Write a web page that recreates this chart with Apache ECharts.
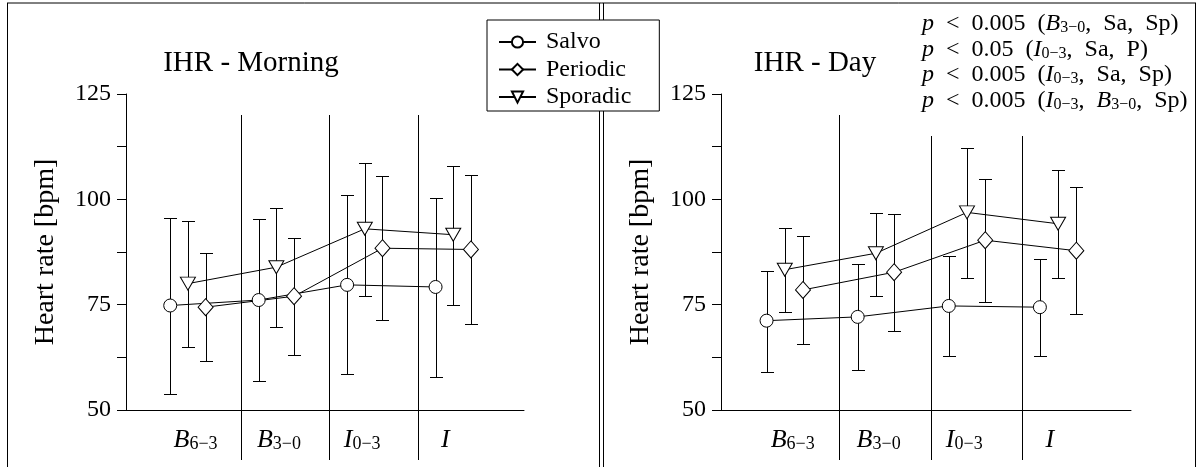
<!DOCTYPE html>
<html><head><meta charset="utf-8">
<script src="https://cdn.jsdelivr.net/npm/echarts@6/dist/echarts.min.js"></script>
<style>html,body{margin:0;padding:0;background:#fff}#c{width:1202px;height:467px}</style>
</head><body><div id="c"></div>
<script>
// ---------- data ----------
const categories = ['B6-3', 'B3-0', 'I0-3', 'I'];
const tickMain = ['B', 'B', 'I', 'I'];
const tickSub = ['6\u22123', '3\u22120', '0\u22123', ''];
const seriesNames = ['Salvo', 'Periodic', 'Sporadic'];
const yTickLabels = [50, 75, 100, 125];
const panelTitles = ['IHR - Morning', 'IHR - Day'];
const yAxisTitle = 'Heart rate [bpm]';

const salvoMorning = [74.8, 76.1, 79.7, 79.2];
const salvoMorningLow = [53.9, 56.9, 58.5, 57.8];
const salvoMorningHigh = [95.6, 95.4, 101.0, 100.4];
const periodicMorning = [74.4, 77.0, 88.4, 88.1];
const periodicMorningLow = [61.7, 63.1, 71.4, 70.5];
const periodicMorningHigh = [87.2, 90.9, 105.6, 105.7];
const sporadicMorning = [80.0, 83.9, 93.0, 91.6];
const sporadicMorningLow = [65.0, 69.6, 77.1, 75.0];
const sporadicMorningHigh = [94.8, 98.0, 108.7, 108.0];

const salvoDay = [71.2, 72.1, 74.7, 74.4];
const salvoDayLow = [59.1, 59.6, 62.9, 62.8];
const salvoDayHigh = [83.1, 84.7, 86.5, 85.9];
const periodicDay = [78.5, 82.7, 90.3, 87.8];
const periodicDayLow = [65.7, 68.8, 75.7, 72.9];
const periodicDayHigh = [91.3, 96.5, 104.9, 102.9];
const sporadicDay = [83.3, 87.2, 96.9, 94.2];
const sporadicDayLow = [73.3, 77.1, 81.4, 81.4];
const sporadicDayHigh = [93.1, 96.8, 112.3, 107.0];

const S = '\u2002';
const annotationLines = [
  '{i|p}{r|' + S + '<' + S + '0.005' + S + '(}{i|B}{s|3\u22120}{r|,' + S + 'Sa,' + S + 'Sp)}',
  '{i|p}{r|' + S + '<' + S + '0.05' + S + '(}{i|I}{s|0\u22123}{r|,' + S + 'Sa,' + S + 'P)}',
  '{i|p}{r|' + S + '<' + S + '0.005' + S + '(}{i|I}{s|0\u22123}{r|,' + S + 'Sa,' + S + 'Sp)}',
  '{i|p}{r|' + S + '<' + S + '0.005' + S + '(}{i|I}{s|0\u22123}{r|,' + S + '}{i|B}{s|3\u22120}{r|,' + S + 'Sp)}'
];

// ---------- layout / style ----------
const FONT = '"Liberation Serif", "Times New Roman", serif';
const groupOffset = { Salvo: -0.2, Periodic: 0.2, Sporadic: 0 };
const symbolOf = {
  Salvo: { symbol: 'circle', size: 13, rotate: 0 },
  Periodic: { symbol: 'diamond', size: [15, 17], rotate: 0 },
  Sporadic: { symbol: 'triangle', size: [15, 13], rotate: 180 }
};
const labelPos = [0.087, 1.03, 1.97, 2.91];
const sepPos = [0.6, 1.6, 2.6];
const sepTop = [[120, 120, 120], [120, 115, 115]];
const sepBottom = 38.1;
const X_MIN = -0.7, X_MAX = 3.8;

const panels = [
  { names: seriesNames, vals: [salvoMorning, periodicMorning, sporadicMorning],
    lo: [salvoMorningLow, periodicMorningLow, sporadicMorningLow],
    hi: [salvoMorningHigh, periodicMorningHigh, sporadicMorningHigh] },
  { names: seriesNames, vals: [salvoDay, periodicDay, sporadicDay],
    lo: [salvoDayLow, periodicDayLow, sporadicDayLow],
    hi: [salvoDayHigh, periodicDayHigh, sporadicDayHigh] }
];

const chart = echarts.init(document.getElementById('c'), null, { renderer: 'canvas' });

const px = v => Math.round(v) + 0.5;
function errRender(params, api) {
  const x = api.value(0), lo = api.value(1), hi = api.value(2);
  const a = api.coord([x, lo]), b = api.coord([x, hi]);
  const cx = px(a[0]), ya = px(a[1]), yb = px(b[1]), w = 6.5;
  const st = { stroke: '#000', lineWidth: 1, fill: null };
  return { type: 'group', children: [
    { type: 'line', shape: { x1: cx, y1: ya, x2: cx, y2: yb }, style: st },
    { type: 'line', shape: { x1: cx - w, y1: ya, x2: cx + w, y2: ya }, style: st },
    { type: 'line', shape: { x1: cx - w, y1: yb, x2: cx + w, y2: yb }, style: st }
  ]};
}
function sepRender(params, api) {
  const x = api.value(0), top = api.value(1);
  const a = api.coord([x, top]), b = api.coord([x, sepBottom]);
  return { type: 'line', shape: { x1: px(a[0]), y1: Math.round(a[1]), x2: px(a[0]), y2: Math.round(b[1]) },
    style: { stroke: '#000', lineWidth: 1 } };
}

const series = [];
panels.forEach((p, pi) => {
  series.push({
    type: 'custom', xAxisIndex: pi, yAxisIndex: pi, clip: false, silent: true, z: 1,
    renderItem: sepRender, encode: { x: 0, y: 1 },
    data: sepPos.map((s, k) => [s, sepTop[pi][k]])
  });
  p.names.forEach((name, si) => {
    const off = groupOffset[name];
    series.push({
      type: 'custom', xAxisIndex: pi, yAxisIndex: pi, silent: true, z: 2,
      renderItem: errRender, encode: { x: 0, y: [1, 2] },
      data: categories.map((c, i) => [i + off, p.lo[si][i], p.hi[si][i]])
    });
  });
  p.names.forEach((name, si) => {
    const off = groupOffset[name];
    const sy = symbolOf[name];
    series.push({
      type: 'line', name: name, xAxisIndex: pi, yAxisIndex: pi, z: 3,
      symbol: sy.symbol, symbolSize: sy.size, symbolRotate: sy.rotate, showAllSymbol: true,
      itemStyle: { color: '#fff', borderColor: '#000', borderWidth: 1 },
      lineStyle: { color: '#000', width: 1 },
      emphasis: { disabled: true },
      data: categories.map((c, i) => [i + off, p.vals[si][i]])
    });
  });
});

function xAxisFor(gi) {
  return {
    type: 'value', gridIndex: gi, min: X_MIN, max: X_MAX,
    axisLine: { show: true, onZero: false, lineStyle: { color: '#000', width: 1 } },
    axisTick: { show: false }, splitLine: { show: false },
    axisLabel: {
      customValues: labelPos, margin: 13, color: '#000',
      formatter: v => {
        let i = 0, best = 1e9;
        labelPos.forEach((lp, k) => { if (Math.abs(lp - v) < best) { best = Math.abs(lp - v); i = k; } });
        return '{b|' + tickMain[i] + '}' + (tickSub[i] ? '{s|' + tickSub[i] + '}' : '');
      },
      rich: {
        b: { fontFamily: FONT, fontStyle: 'italic', fontSize: 26, lineHeight: 30, color: '#000', verticalAlign: 'bottom' },
        s: { fontFamily: FONT, fontSize: 18, lineHeight: 14, color: '#000', verticalAlign: 'bottom' }
      }
    }
  };
}
function yAxisFor(gi) {
  return {
    type: 'value', gridIndex: gi, min: 50, max: 125, interval: 12.5,
    name: yAxisTitle, nameLocation: 'middle', nameGap: 66,
    nameTextStyle: { fontFamily: FONT, fontSize: 28, color: '#000' },
    axisLine: { show: true, onZero: false, lineStyle: { color: '#000', width: 1 } },
    axisTick: { show: true, inside: false, length: 9, lineStyle: { color: '#000' } },
    splitLine: { show: false },
    axisLabel: {
      margin: 15, color: '#000', fontFamily: FONT, fontSize: 24,
      formatter: v => (yTickLabels.indexOf(v) >= 0 ? String(v) : '')
    }
  };
}

const lineStyleFrame = { stroke: '#000', lineWidth: 1 };
const option = {
  animation: false,
  backgroundColor: '#fff',
  grid: [
    { left: 126, top: 94, width: 398, height: 316 },
    { left: 721, top: 94, width: 410, height: 316 }
  ],
  xAxis: [xAxisFor(0), xAxisFor(1)],
  yAxis: [yAxisFor(0), yAxisFor(1)],
  legend: {
    data: seriesNames, orient: 'vertical', left: 487, top: 20, z: 10,
    itemWidth: 37, itemHeight: 14, itemGap: 3.5,
    padding: [10, 28, 2, 11],
    backgroundColor: '#fff', borderColor: '#000', borderWidth: 1,
    selectedMode: false,
    textStyle: { fontFamily: FONT, fontSize: 24, color: '#000', lineHeight: 22, padding: [0, 0, 0, 5] }
  },
  graphic: [
    { type: 'line', z: 1, shape: { x1: 7, y1: 3, x2: 1196, y2: 3 }, style: lineStyleFrame },
    { type: 'line', z: 1, shape: { x1: 7.5, y1: 3, x2: 7.5, y2: 467 }, style: lineStyleFrame },
    { type: 'line', z: 1, shape: { x1: 599.5, y1: 3, x2: 599.5, y2: 467 }, style: lineStyleFrame },
    { type: 'line', z: 1, shape: { x1: 603.5, y1: 3, x2: 603.5, y2: 467 }, style: lineStyleFrame },
    { type: 'line', z: 1, shape: { x1: 1195.5, y1: 3, x2: 1195.5, y2: 467 }, style: lineStyleFrame },
    { type: 'text', z: 5, x: 251, y: 63,
      style: { text: panelTitles[0], font: '29px ' + FONT, fill: '#000', textAlign: 'center', textVerticalAlign: 'middle' } },
    { type: 'text', z: 5, x: 815, y: 63,
      style: { text: panelTitles[1], font: '29px ' + FONT, fill: '#000', textAlign: 'center', textVerticalAlign: 'middle' } },
    { type: 'text', z: 5, left: 922, top: 12,
      style: {
        text: annotationLines.join('\n'), fill: '#000',
        rich: {
          i: { fontFamily: FONT, fontStyle: 'italic', fontSize: 24, lineHeight: 25.5, verticalAlign: 'bottom', fill: '#000' },
          r: { fontFamily: FONT, fontSize: 24, lineHeight: 25.5, verticalAlign: 'bottom', fill: '#000' },
          s: { fontFamily: FONT, fontSize: 16, lineHeight: 12, verticalAlign: 'bottom', fill: '#000' }
        }
      } }
  ],
  series: series
};
chart.setOption(option);
</script>
</body></html>
